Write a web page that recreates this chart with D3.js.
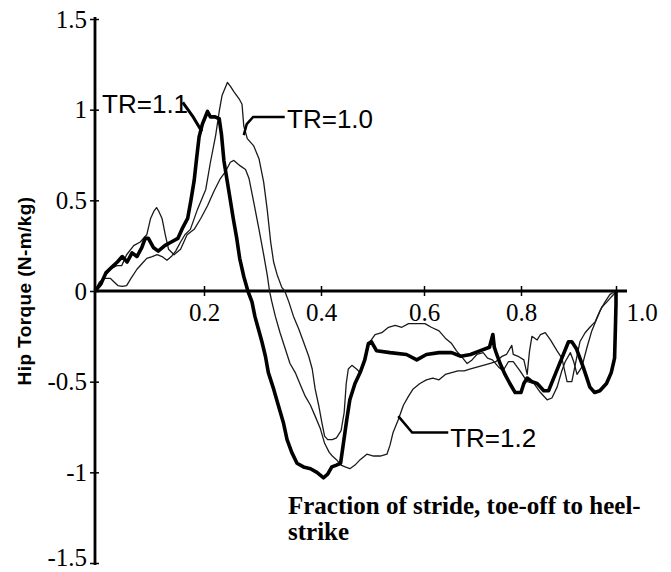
<!DOCTYPE html>
<html>
<head>
<meta charset="utf-8">
<script src="https://cdn.jsdelivr.net/npm/d3@7/dist/d3.min.js"></script>
<style>
  body { margin: 0; background: #fff; }
  svg { display: block; }
</style>
</head>
<body>
<svg id="chart" width="671" height="572"></svg>
<script>
// values
const xTicks = [0.2, 0.4, 0.6, 0.8, 1.0];
const xTickLabels = ["0.2", "0.4", "0.6", "0.8", "1.0"];
const yTicks = [1.5, 1, 0.5, 0, -0.5, -1, -1.5];
const yTickLabels = ["1.5", "1", "0.5", "0", "-0.5", "-1", "-1.5"];

// TR=1.1 (thick line)
const tr11 = [
  [0,0],[0.011,0.04],[0.02,0.1],[0.032,0.135],[0.041,0.16],[0.05,0.19],[0.059,0.16],[0.068,0.21],
  [0.077,0.19],[0.086,0.24],[0.092,0.29],[0.098,0.29],[0.107,0.24],[0.116,0.22],[0.128,0.25],
  [0.14,0.27],[0.152,0.29],[0.161,0.35],[0.17,0.4],[0.176,0.5],[0.182,0.61],[0.186,0.72],
  [0.191,0.85],[0.197,0.92],[0.206,0.99],[0.211,0.96],[0.219,0.96],[0.226,0.95],[0.23,0.86],
  [0.234,0.72],[0.24,0.6],[0.245,0.5],[0.25,0.4],[0.256,0.29],[0.261,0.18],[0.268,0.08],[0.275,0],
  [0.282,-0.06],[0.287,-0.14],[0.293,-0.21],[0.299,-0.28],[0.305,-0.36],[0.31,-0.45],[0.319,-0.54],
  [0.327,-0.63],[0.336,-0.73],[0.342,-0.82],[0.35,-0.89],[0.359,-0.95],[0.37,-0.97],[0.382,-0.98],
  [0.393,-1.0],[0.405,-1.03],[0.413,-1.01],[0.421,-0.97],[0.43,-0.96],[0.438,-0.95],[0.443,-0.85],
  [0.45,-0.71],[0.456,-0.6],[0.466,-0.51],[0.476,-0.45],[0.485,-0.38],[0.492,-0.29],[0.498,-0.28],
  [0.508,-0.33],[0.534,-0.34],[0.566,-0.35],[0.586,-0.38],[0.605,-0.35],[0.631,-0.34],[0.657,-0.34],
  [0.676,-0.36],[0.696,-0.35],[0.715,-0.33],[0.735,-0.31],[0.742,-0.24],[0.745,-0.31],[0.75,-0.35],
  [0.757,-0.4],[0.767,-0.46],[0.777,-0.51],[0.788,-0.56],[0.8,-0.56],[0.806,-0.51],[0.813,-0.48],
  [0.823,-0.5],[0.834,-0.51],[0.848,-0.55],[0.858,-0.55],[0.872,-0.46],[0.886,-0.37],[0.9,-0.28],
  [0.907,-0.28],[0.917,-0.32],[0.931,-0.42],[0.945,-0.53],[0.955,-0.56],[0.966,-0.55],[0.98,-0.51],
  [0.99,-0.45],[0.997,-0.37],[0.999,-0.18],[1.0,-0.07],[1.0,0]
];

// TR=1.0
const tr10 = [
  [0,0],[0.008,0.05],[0.018,0.07],[0.028,0.07],[0.035,0.05],[0.042,0.03],[0.05,0.025],[0.058,0.03],
  [0.066,0.07],[0.077,0.12],[0.086,0.15],[0.095,0.18],[0.105,0.19],[0.114,0.2],[0.123,0.19],
  [0.132,0.17],[0.14,0.19],[0.148,0.22],[0.157,0.27],[0.165,0.31],[0.175,0.34],[0.188,0.45],
  [0.203,0.56],[0.211,0.71],[0.22,0.86],[0.226,0.99],[0.231,1.08],[0.24,1.15],[0.245,1.13],
  [0.251,1.1],[0.26,1.06],[0.265,1.03],[0.268,0.91],[0.274,0.84],[0.285,0.8],[0.294,0.73],
  [0.302,0.6],[0.308,0.45],[0.314,0.27],[0.319,0.16],[0.325,0.09],[0.333,0.02],[0.338,0],
  [0.345,-0.06],[0.353,-0.14],[0.362,-0.21],[0.37,-0.28],[0.379,-0.36],[0.385,-0.43],[0.39,-0.54],
  [0.396,-0.63],[0.402,-0.73],[0.407,-0.8],[0.413,-0.82],[0.422,-0.82],[0.43,-0.81],[0.439,-0.77],
  [0.445,-0.67],[0.449,-0.51],[0.453,-0.43],[0.46,-0.41],[0.469,-0.43],[0.476,-0.45],[0.482,-0.4],
  [0.489,-0.32],[0.495,-0.28],[0.505,-0.24],[0.518,-0.23],[0.531,-0.2],[0.544,-0.19],[0.557,-0.2],
  [0.57,-0.18],[0.586,-0.18],[0.602,-0.18],[0.615,-0.2],[0.631,-0.22],[0.644,-0.26],[0.657,-0.29],
  [0.667,-0.33],[0.68,-0.37],[0.689,-0.4],[0.699,-0.38],[0.709,-0.35],[0.722,-0.34],[0.731,-0.37],
  [0.741,-0.38],[0.754,-0.42],[0.763,-0.44],[0.774,-0.39],[0.784,-0.39],[0.798,-0.44],[0.813,-0.5],
  [0.827,-0.51],[0.841,-0.56],[0.855,-0.6],[0.865,-0.59],[0.876,-0.53],[0.886,-0.44],[0.893,-0.39],
  [0.904,-0.34],[0.911,-0.39],[0.918,-0.46],[0.928,-0.42],[0.939,-0.31],[0.949,-0.22],[0.96,-0.15],
  [0.97,-0.09],[0.981,-0.06],[0.991,-0.03],[0.998,-0.01]
];

// TR=1.2
const tr12 = [
  [0,0],[0.003,0.015],[0.015,0.07],[0.028,0.12],[0.04,0.14],[0.049,0.14],[0.058,0.2],[0.071,0.25],
  [0.083,0.27],[0.095,0.31],[0.102,0.4],[0.108,0.44],[0.113,0.46],[0.117,0.44],[0.123,0.4],
  [0.129,0.31],[0.135,0.23],[0.145,0.2],[0.157,0.23],[0.169,0.31],[0.182,0.34],[0.194,0.4],
  [0.206,0.47],[0.217,0.55],[0.228,0.62],[0.237,0.66],[0.245,0.71],[0.251,0.72],[0.262,0.69],
  [0.271,0.67],[0.277,0.62],[0.285,0.49],[0.294,0.34],[0.302,0.2],[0.308,0.09],[0.312,0],
  [0.316,-0.06],[0.322,-0.14],[0.33,-0.23],[0.339,-0.32],[0.347,-0.4],[0.356,-0.45],[0.365,-0.52],
  [0.373,-0.58],[0.382,-0.63],[0.39,-0.69],[0.399,-0.76],[0.407,-0.84],[0.416,-0.89],[0.422,-0.91],
  [0.43,-0.93],[0.439,-0.96],[0.447,-0.97],[0.456,-0.98],[0.466,-0.96],[0.476,-0.93],[0.489,-0.9],
  [0.502,-0.91],[0.515,-0.91],[0.528,-0.9],[0.534,-0.85],[0.54,-0.78],[0.55,-0.71],[0.56,-0.63],
  [0.57,-0.58],[0.579,-0.54],[0.592,-0.51],[0.605,-0.49],[0.618,-0.48],[0.631,-0.49],[0.644,-0.46],
  [0.657,-0.45],[0.67,-0.44],[0.683,-0.44],[0.696,-0.43],[0.709,-0.42],[0.722,-0.41],[0.735,-0.4],
  [0.748,-0.39],[0.761,-0.36],[0.77,-0.35],[0.781,-0.3],[0.784,-0.35],[0.794,-0.36],[0.806,-0.38],
  [0.813,-0.46],[0.818,-0.33],[0.823,-0.25],[0.834,-0.27],[0.841,-0.24],[0.851,-0.23],[0.862,-0.27],
  [0.876,-0.33],[0.886,-0.37],[0.897,-0.5],[0.907,-0.5],[0.917,-0.37],[0.924,-0.28],[0.935,-0.23],
  [0.945,-0.2],[0.956,-0.17],[0.966,-0.11],[0.977,-0.06],[0.987,-0.02],[0.998,0]
];

const svg = d3.select("#chart");

// the scanned x axis is not quite evenly spaced, so map each tick
const x = d3.scaleLinear()
  .domain([0, 0.2, 0.4, 0.6, 0.8, 1.0])
  .range([95, 204, 321, 424, 521, 616]);

const y = d3.scaleLinear()
  .domain([-1.5, 1.5])
  .range([563, 19]);

const serif = "'Liberation Serif', 'Times New Roman', serif";
const sans = "'Liberation Sans', Arial, sans-serif";

// === Axes ===
// Y axis: ticks cross the line, so draw a left and a right axis
const yAxisL = svg.append("g")
  .attr("transform", `translate(${x(0)},0)`)
  .call(d3.axisLeft(y).tickValues(yTicks).tickSize(5).tickPadding(3)
    .tickFormat((d, i) => yTickLabels[i]));
svg.append("g")
  .attr("transform", `translate(${x(0)},0)`)
  .call(d3.axisRight(y).tickValues(yTicks).tickSize(4).tickFormat(""));

// X axis at y = 0
const xAxisB = svg.append("g")
  .attr("transform", `translate(0,${y(0)})`)
  .call(d3.axisBottom(x).tickValues(xTicks).tickSize(5).tickPadding(7)
    .tickFormat((d, i) => xTickLabels[i]));
svg.append("g")
  .attr("transform", `translate(0,${y(0)})`)
  .call(d3.axisTop(x).tickValues(xTicks).tickSize(5).tickFormat(""));

svg.selectAll(".domain").remove();
svg.selectAll(".tick line").attr("stroke", "#000").attr("stroke-width", 1.5);

yAxisL.selectAll("text")
  .attr("font-family", serif).attr("font-size", 25).attr("fill", "#000");
// bottom label would run off the page
yAxisL.selectAll(".tick").filter(d => d === -1.5).select("text").attr("dy", "0.1em");
xAxisB.selectAll("text")
  .attr("font-family", serif).attr("font-size", 25).attr("fill", "#000");
// "1.0" sits to the right of the end tick in the original
xAxisB.selectAll(".tick").filter(d => d === 1.0).select("text")
  .attr("text-anchor", "start").attr("dx", 10);

// axis lines
svg.append("line")
  .attr("x1", x(0)).attr("x2", x(0))
  .attr("y1", y(1.5) - 2).attr("y2", y(-1.5) + 2)
  .attr("stroke", "#000").attr("stroke-width", 2.8);
svg.append("line")
  .attr("x1", x(0)).attr("x2", x(1) + 11)
  .attr("y1", y(0)).attr("y2", y(0))
  .attr("stroke", "#000").attr("stroke-width", 2.8);

// === Curves ===
const line = d3.line()
  .x(d => x(d[0]))
  .y(d => y(d[1]));

svg.append("path").datum(tr10)
  .attr("d", line).attr("fill", "none")
  .attr("stroke", "#1a1a1a").attr("stroke-width", 1.3).attr("stroke-linejoin", "round");
svg.append("path").datum(tr12)
  .attr("d", line).attr("fill", "none")
  .attr("stroke", "#1a1a1a").attr("stroke-width", 1.3).attr("stroke-linejoin", "round");
svg.append("path").datum(tr11)
  .attr("d", line).attr("fill", "none")
  .attr("stroke", "#000").attr("stroke-width", 3.6).attr("stroke-linejoin", "round");

// === Curve labels with leader lines ===
const labels = [
  { text: "TR=1.1", at: [0.013, 0.98], leader: [[0.161, 1.04], [0.18, 0.96], [0.196, 0.88]], w: 3 },
  { text: "TR=1.0", at: [0.342, 0.9], leader: [[0.338, 0.96], [0.284, 0.96], [0.273, 0.92], [0.268, 0.86]], w: 2.5 },
  { text: "TR=1.2", at: [0.654, -0.86], leader: [[0.65, -0.78], [0.577, -0.78], [0.55, -0.69]], w: 2.5 }
];

labels.forEach(l => {
  svg.append("path").datum(l.leader)
    .attr("d", line).attr("fill", "none")
    .attr("stroke", "#000").attr("stroke-width", l.w);
  svg.append("text")
    .attr("x", x(l.at[0])).attr("y", y(l.at[1]))
    .attr("font-family", sans).attr("font-size", 26)
    .text(l.text);
});

// === Axis titles ===
svg.append("text")
  .attr("transform", `translate(31,${y(0)}) rotate(-90)`)
  .attr("text-anchor", "middle")
  .attr("font-family", sans).attr("font-weight", "bold").attr("font-size", 19)
  .attr("letter-spacing", 0.4)
  .text("Hip Torque (N-m/kg)");

const xTitle = svg.append("text")
  .attr("font-family", serif).attr("font-weight", "bold").attr("font-size", 25);
xTitle.append("tspan").attr("x", 288).attr("y", 514).text("Fraction of stride, toe-off to heel-");
xTitle.append("tspan").attr("x", 288).attr("y", 540).text("strike");
</script>
</body>
</html>
